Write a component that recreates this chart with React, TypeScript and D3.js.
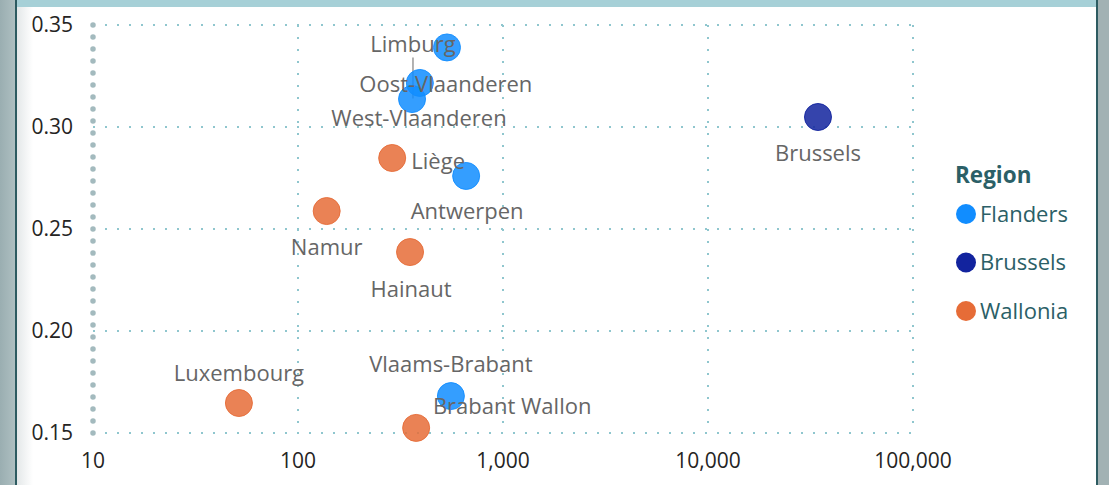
import React from "react";
import * as d3 from "d3";

const names = ["Limburg","Oost-Vlaanderen","West-Vlaanderen","Brussels","Liège","Antwerpen","Namur","Hainaut","Luxembourg","Vlaams-Brabant","Brabant Wallon"];
const regionsOf = ["Flanders","Flanders","Flanders","Brussels","Wallonia","Flanders","Wallonia","Wallonia","Wallonia","Flanders","Wallonia"];
const xValues = [533, 393, 360, 34400, 288, 661, 138, 352, 51.5, 557, 377];
const yValues = [0.339, 0.3216, 0.3137, 0.3049, 0.2848, 0.276, 0.2588, 0.2387, 0.1647, 0.1681, 0.1525];
const legendRegions = ["Flanders","Brussels","Wallonia"];
const regionColors = ["#118DFF","#12239E","#E66C37"];
const xTicks = [10, 100, 1000, 10000, 100000];
const yTicks = [0.15, 0.2, 0.25, 0.3, 0.35];

// layout: label offsets (px) relative to each point
const labelOffsets: [number, number][] = [[-34,-3],[26,1],[7,19],[0,36],[46,3],[1,35],[0,36],[1,37],[0,-30],[0,-32],[96,-22]];

const W = 1109, H = 485;
const X0 = 93, X1 = 913, Y0 = 433, Y1 = 25;

export default function App() {
  const x = d3.scaleLog().domain([10, 100000]).range([X0, X1]);
  const y = d3.scaleLinear().domain([0.15, 0.35]).range([Y0, Y1]);
  const color = d3.scaleOrdinal<string, string>().domain(legendRegions).range(regionColors);
  const fmtX = d3.format(",");
  const fmtY = d3.format(".2f");
  const font = "'Segoe UI', 'Open Sans', 'Noto Sans', sans-serif";
  const pts = names.map((n, i) => ({ n, r: regionsOf[i], cx: x(xValues[i]), cy: y(yValues[i]), off: labelOffsets[i] }));
  const lim = pts[0];
  return (
    <svg width={W} height={H} style={{ position: "absolute", left: 0, top: 0, display: "block" }} fontFamily={font}>
      <defs>
        <linearGradient id="lg" x1="0" x2="1" y1="0" y2="0">
          <stop offset="0" stopColor="#9aaeb1" />
          <stop offset="1" stopColor="#aebfc1" />
        </linearGradient>
        <linearGradient id="sh" x1="0" x2="1" y1="0" y2="0">
          <stop offset="0" stopColor="#e4e8e9" />
          <stop offset="1" stopColor="#ffffff" />
        </linearGradient>
      </defs>
      <rect x={0} y={0} width={W} height={H} fill="#fff" />
      <rect x={0} y={0} width={15} height={H} fill="url(#lg)" />
      <rect x={15} y={0} width={2} height={H} fill="#2d5b61" />
      <rect x={17} y={0} width={16} height={H} fill="url(#sh)" />
      <rect x={17} y={0} width={1079} height={7} fill="#a6d0d7" />
      <rect x={1096} y={0} width={2} height={H} fill="#2d5b61" />
      <rect x={1098} y={0} width={11} height={H} fill="#a2b2b4" />

      {/* grid */}
      {yTicks.map((t) => (
        <line key={"gy" + t} x1={X0} x2={X1} y1={y(t)} y2={y(t)} stroke="#8fc6ce" strokeWidth={2} strokeDasharray="2 10" />
      ))}
      {xTicks.slice(1).map((t) => (
        <line key={"gx" + t} x1={x(t)} x2={x(t)} y1={Y1} y2={Y0} stroke="#8fc6ce" strokeWidth={2} strokeDasharray="2 10" />
      ))}
      <line x1={X0} x2={X0} y1={Y1} y2={Y0 + 1} stroke="#a3babe" strokeWidth={5.5} strokeLinecap="round" strokeDasharray="0.1 11.9" />

      {/* axis labels */}
      {yTicks.map((t) => (
        <text key={"ty" + t} x={73} y={y(t)} dy="0.35em" textAnchor="end" fontSize={21} fill="#252423">{fmtY(t)}</text>
      ))}
      {xTicks.map((t) => (
        <text key={"tx" + t} x={x(t)} y={461} dy="0.35em" textAnchor="middle" fontSize={21} fill="#252423">{fmtX(t)}</text>
      ))}

      {/* leader line */}
      <line x1={lim.cx + lim.off[0]} x2={lim.cx + lim.off[0]} y1={lim.cy + 10} y2={lim.cy + 51} stroke="#999" strokeWidth={1.5} />

      {/* points */}
      {pts.map((p) => (
        <circle key={"c" + p.n} cx={p.cx} cy={p.cy} r={13.5} fill={color(p.r)} fillOpacity={0.85} stroke={color(p.r)} strokeOpacity={0.9} strokeWidth={1} />
      ))}
      {/* labels */}
      {pts.map((p) => (
        <text key={"l" + p.n} x={p.cx + p.off[0]} y={p.cy + p.off[1]} dy="0.35em" textAnchor="middle" fontSize={22} fill="#666666">{p.n}</text>
      ))}

      {/* legend */}
      <text x={955} y={175} dy="0.35em" fontSize={22.5} fontWeight="bold" fill="#2b5f67">Region</text>
      {legendRegions.map((r, i) => (
        <g key={"lg" + r} transform={`translate(0, ${214 + i * 48.5})`}>
          <circle cx={966} cy={0} r={10} fill={color(r)} />
          <text x={980} y={0} dy="0.35em" fontSize={22} fill="#2b5f67">{r}</text>
        </g>
      ))}
    </svg>
  );
}
